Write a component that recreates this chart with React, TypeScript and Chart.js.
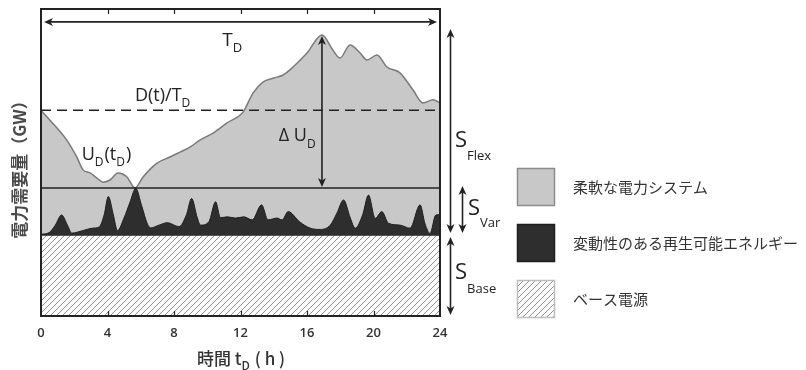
import React, { useEffect, useRef } from 'react';
import { Chart, registerables } from 'chart.js';

Chart.register(...registerables);

// ---- data (hours / relative GW units) ----
const X_TICKS = [0, 4, 8, 12, 16, 20, 24];
const BASE_LEVEL = 26.4;
const MIN_LEVEL = 41.7;
const MEAN_LEVEL = 67.0;
const PEAK_T = 16.9;
const PEAK_LEVEL = 91.5;
const FLEX_TOP = 93.5;
const TOP_ARROW_LEVEL = 95.8;

const demandT = [0, 0.54, 1.55, 2.15, 2.53, 2.95, 3.35, 3.73, 4.15, 4.63, 5.17, 5.65, 6.14, 6.6, 6.98, 7.76, 8.36, 8.96, 9.56, 10.35, 11.19, 12.15, 12.75, 13.35, 14.0, 14.56, 15.16, 16.0, 16.9, 17.56, 17.98, 18.59, 19.19, 19.61, 20.21, 20.81, 21.59, 22.38, 22.98, 23.58, 24];
const demandV = [66.9, 63.8, 57.3, 51.8, 47.6, 46.6, 45.0, 43.6, 44.3, 46.6, 45.3, 41.7, 45.3, 48.0, 49.8, 51.8, 53.4, 55.0, 57.3, 59.6, 62.9, 66.4, 72.6, 76.2, 77.5, 78.5, 81.1, 85.7, 91.5, 86.6, 84.0, 88.3, 85.7, 83.4, 85.0, 81.1, 79.2, 73.6, 69.4, 70.4, 69.4];

const varT = [0, 0.5, 0.85, 1.24, 1.6, 1.85, 2.5, 3.1, 3.5, 3.8, 4.05, 4.35, 4.6, 5.0, 5.35, 5.7, 6.05, 6.4, 6.6, 7.1, 7.6, 8.3, 8.75, 9.06, 9.4, 9.6, 10.1, 10.5, 10.8, 11.2, 11.7, 12.2, 12.7, 13.27, 13.65, 14.2, 14.5, 14.87, 15.55, 16.2, 16.8, 17.4, 17.8, 18.2, 18.6, 18.9, 19.35, 19.7, 20.1, 20.5, 20.9, 21.6, 22.2, 22.8, 23.1, 23.4, 23.75, 24];
const varV = [26.6, 27.2, 29.5, 32.9, 29.5, 27.0, 27.8, 28.6, 29.0, 33.0, 38.9, 33.0, 27.8, 32.0, 37.0, 41.6, 36.0, 30.0, 28.7, 29.6, 30.4, 29.1, 33.0, 38.3, 32.0, 29.6, 30.7, 37.2, 32.0, 32.3, 31.9, 32.3, 31.3, 36.2, 31.3, 31.9, 31.3, 34.0, 30.7, 28.6, 28.2, 29.6, 33.5, 37.8, 32.0, 28.6, 33.0, 39.4, 31.8, 34.0, 30.2, 29.6, 28.6, 36.2, 30.0, 26.9, 32.9, 33.0];

const LEGEND_LABELS = ['柔軟な電力システム', '変動性のある再生可能エネルギー', 'ベース電源'];
const X_TITLE = ['時間 t', 'D', ' ( h )'];
const Y_TITLE = '電力需要量（GW）';

const LATIN = "'Open Sans', 'Liberation Sans', sans-serif";
const CJK = "'Noto Sans CJK JP', 'Open Sans', sans-serif";

function makeHatch(): CanvasPattern | string {
  const c = document.createElement('canvas');
  c.width = 6; c.height = 6;
  const g = c.getContext('2d');
  if (!g) return '#fff';
  g.fillStyle = '#ffffff';
  g.fillRect(0, 0, 6, 6);
  g.strokeStyle = '#8f8f8f';
  g.lineWidth = 1;
  g.beginPath();
  g.moveTo(0, 6); g.lineTo(6, 0);
  g.moveTo(-1, 1); g.lineTo(1, -1);
  g.moveTo(5, 7); g.lineTo(7, 5);
  g.stroke();
  return g.createPattern(c, 'repeat') || '#fff';
}

type Run = [string, number, number];

function drawRuns(ctx: CanvasRenderingContext2D, x: number, y: number, runs: Run[], family: string, color: string, weight = '400') {
  let cx = x;
  ctx.fillStyle = color;
  ctx.textAlign = 'left';
  ctx.textBaseline = 'alphabetic';
  for (const [t, size, dy] of runs) {
    ctx.font = `${weight} ${size}px ${family}`;
    ctx.fillText(t, cx, y + dy);
    cx += ctx.measureText(t).width + (dy ? 1 : 0);
  }
}

function arrowHead(ctx: CanvasRenderingContext2D, x: number, y: number, dx: number, dy: number) {
  const L = 9, W = 4;
  const bx = x - dx * L, by = y - dy * L;
  ctx.beginPath();
  ctx.moveTo(x, y);
  ctx.lineTo(bx - dy * W, by + dx * W);
  ctx.lineTo(bx + dx * 2.5, by + dy * 2.5);
  ctx.lineTo(bx + dy * W, by - dx * W);
  ctx.closePath();
  ctx.fill();
}

function dblArrow(ctx: CanvasRenderingContext2D, x1: number, y1: number, x2: number, y2: number) {
  const len = Math.hypot(x2 - x1, y2 - y1);
  const dx = (x2 - x1) / len, dy = (y2 - y1) / len;
  ctx.beginPath();
  ctx.moveTo(x1 + dx * 4, y1 + dy * 4);
  ctx.lineTo(x2 - dx * 4, y2 - dy * 4);
  ctx.stroke();
  arrowHead(ctx, x2, y2, dx, dy);
  arrowHead(ctx, x1, y1, -dx, -dy);
}

export default function App() {
  const ref = useRef<HTMLCanvasElement | null>(null);

  useEffect(() => {
    const canvas = ref.current;
    if (!canvas) return;
    const hatch = makeHatch();

    const pyOf = (chart: any, pixel: number) => chart.scales.y.getValueForPixel(pixel);

    const annot = {
      id: 'annot',
      afterDraw(chart: any) {
        const { ctx, chartArea: a, scales } = chart;
        const px = (v: number) => scales.x.getPixelForValue(v);
        const py = (v: number) => scales.y.getPixelForValue(v);
        ctx.save();
        const ink = '#222';
        ctx.strokeStyle = ink;
        ctx.fillStyle = ink;

        // frame
        ctx.lineWidth = 2;
        ctx.strokeRect(a.left, a.top, a.right - a.left, a.bottom - a.top);
        // inner tick marks
        ctx.lineWidth = 1.2;
        X_TICKS.slice(1, -1).forEach((t) => {
          const xx = Math.round(px(t)) + 0.5;
          ctx.beginPath();
          ctx.moveTo(xx, a.top); ctx.lineTo(xx, a.top + 5);
          ctx.moveTo(xx, a.bottom); ctx.lineTo(xx, a.bottom - 5);
          ctx.stroke();
        });

        // arrows
        ctx.lineWidth = 1.6;
        dblArrow(ctx, a.left + 3, py(TOP_ARROW_LEVEL), a.right - 3, py(TOP_ARROW_LEVEL));
        dblArrow(ctx, px(PEAK_T), py(PEAK_LEVEL) + 1, px(PEAK_T), py(MIN_LEVEL) - 1);
        const rx1 = a.right + 10.5, rx2 = a.right + 22.5;
        dblArrow(ctx, rx1, py(FLEX_TOP), rx1, py(BASE_LEVEL) - 2);
        dblArrow(ctx, rx2, py(MIN_LEVEL) - 2, rx2, py(BASE_LEVEL) - 2);
        dblArrow(ctx, rx1, py(BASE_LEVEL) + 2, rx1, a.bottom - 1);

        // in-plot labels
        drawRuns(ctx, px(10.9), py(87.9), [['T', 19, 0], ['D', 13, 6]], LATIN, ink);
        drawRuns(ctx, px(5.65), py(70.0), [['D(t)/T', 18, 0], ['D', 12, 6]], LATIN, ink);
        drawRuns(ctx, px(14.3), py(57.0), [['Δ U', 18, 0], ['D', 12, 7]], LATIN, ink);
        drawRuns(ctx, px(2.45), py(50.8), [['U', 18, 0], ['D', 12, 6], ['(t', 18, 0], ['D', 12, 6], [')', 18, 0]], LATIN, ink);

        // S labels
        drawRuns(ctx, a.right + 15, py(pyOf(chart, 147)), [['S', 22, 0], ['Flex', 13, 13]], LATIN, ink);
        drawRuns(ctx, a.right + 28, py(pyOf(chart, 215)), [['S', 22, 0], ['Var', 13, 12]], LATIN, ink);
        drawRuns(ctx, a.right + 15, py(pyOf(chart, 279)), [['S', 22, 0], ['Base', 13, 14]], LATIN, ink);

        // x title
        drawRuns(ctx, 197, 365, [[X_TITLE[0], 17, 0], [X_TITLE[1], 12, 5], [X_TITLE[2], 17, 0]], CJK, '#333', '500');

        // y title
        ctx.save();
        ctx.translate(20, (a.top + a.bottom) / 2 + 3);
        ctx.rotate(-Math.PI / 2);
        ctx.font = `600 17px ${CJK}`;
        ctx.fillStyle = '#4a4a4a';
        ctx.textAlign = 'center';
        ctx.textBaseline = 'middle';
        ctx.fillText(Y_TITLE, 0, 0);
        ctx.restore();

        // legend
        const lx = 517, bw = 38;
        const tops = [168, 224, 280];
        const fills: any[] = ['#c8c8c8', '#2e2e2e', hatch];
        const strokes = ['#8c8c8c', '#1e1e1e', '#bdbdbd'];
        tops.forEach((ty, i) => {
          ctx.fillStyle = fills[i];
          ctx.fillRect(lx, ty, bw, bw);
          ctx.strokeStyle = strokes[i];
          ctx.lineWidth = 1.5;
          ctx.strokeRect(lx + 0.5, ty + 0.5, bw - 1, bw - 1);
          ctx.fillStyle = '#333';
          ctx.font = `400 15px ${CJK}`;
          ctx.textAlign = 'left';
          ctx.textBaseline = 'middle';
          ctx.fillText(LEGEND_LABELS[i], 573, ty + bw / 2);
        });
        ctx.restore();
      },
    };

    const pts = (ts: number[], vs: number[]) => ts.map((t, i) => ({ x: t, y: vs[i] }));
    const flat = (v: number) => [{ x: 0, y: v }, { x: 24, y: v }];

    const chart = new Chart(canvas, {
      type: 'line',
      data: {
        datasets: [
          { label: 'mean', data: flat(MEAN_LEVEL), borderColor: '#222', borderWidth: 1.4, borderDash: [10, 6], fill: false, pointRadius: 0 },
          { label: 'min', data: flat(MIN_LEVEL), borderColor: '#222', borderWidth: 1.6, fill: false, pointRadius: 0 },
          { label: LEGEND_LABELS[1], data: pts(varT, varV), borderColor: '#1e1e1e', borderWidth: 1, backgroundColor: '#2e2e2e', fill: { value: BASE_LEVEL }, pointRadius: 0, tension: 0.4, cubicInterpolationMode: 'monotone' },
          { label: LEGEND_LABELS[0], data: pts(demandT, demandV), borderColor: '#7a7a7a', borderWidth: 1.5, backgroundColor: '#c8c8c8', fill: { value: BASE_LEVEL }, pointRadius: 0, tension: 0.4, cubicInterpolationMode: 'monotone' },
          { label: LEGEND_LABELS[2], data: flat(BASE_LEVEL), borderColor: '#222', borderWidth: 1.6, backgroundColor: hatch as any, fill: 'origin', pointRadius: 0 },
        ],
      },
      options: {
        animation: false,
        responsive: false,
        layout: { padding: { left: 41, right: 366, top: 9, bottom: 0 } },
        plugins: { legend: { display: false }, tooltip: { enabled: false } },
        scales: {
          x: {
            type: 'linear', min: 0, max: 24,
            afterBuildTicks: (s: any) => { s.ticks = X_TICKS.map((v) => ({ value: v })); },
            ticks: { padding: 9, color: '#333', font: { family: LATIN, size: 13, weight: '600' } },
            grid: { display: false, drawTicks: false },
            border: { display: false },
            afterFit: (s: any) => { s.height = 54; },
          },
          y: { min: 0, max: 100, display: false },
        },
      } as any,
      plugins: [annot],
    });
    return () => chart.destroy();
  }, []);

  return (
    <div style={{ position: 'fixed', left: 0, top: 0, width: 806, height: 370, background: '#fff' }}>
      <canvas ref={ref} width={806} height={370} style={{ display: 'block' }} />
    </div>
  );
}
